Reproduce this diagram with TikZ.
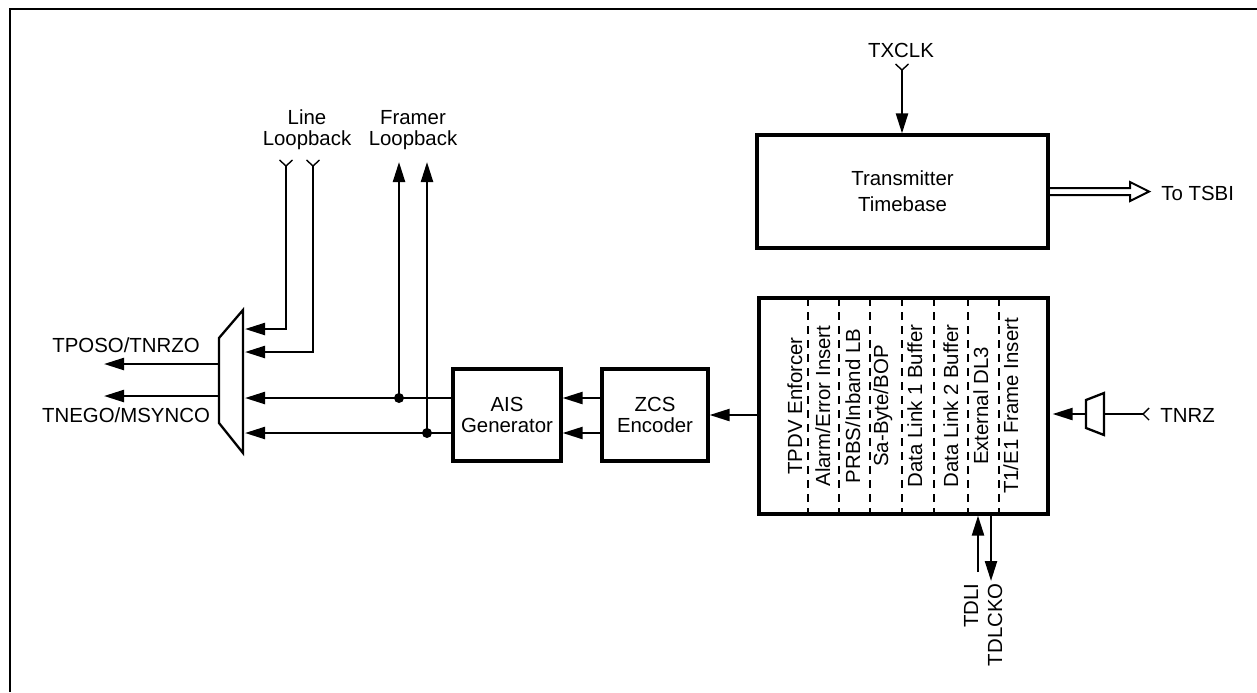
\documentclass[tikz,border=0pt]{standalone}
\usepackage{fontspec}
\setmainfont{Liberation Sans}
\usetikzlibrary{arrows.meta,calc,positioning}

\begin{document}
\begin{tikzpicture}[x=0.5pt,y=-0.5pt,>={Triangle[length=10pt,width=6pt]},
  every node/.style={inner sep=0pt,font=\fontsize{10.2}{10.5}\selectfont},
  blk/.style={draw,line width=1.6pt,align=center},
  wire/.style={line width=1.15pt},
  pin/.style={line width=0.7pt},
  dot/.style={circle,fill,minimum size=5pt}]
  \useasboundingbox (0,0) rectangle (1257,692);
  \draw[line width=1.35pt] (10,692) -- (10,9) -- (1257,9);

  \node[blk,minimum width=145.5pt,minimum height=56.5pt] (tb) at (902.5,191.5) {Transmitter\\[2.5pt]Timebase};
  \node[blk,minimum width=144.5pt,minimum height=108pt] (ins) at (903.5,406) {};
  \node[blk,minimum width=53pt,minimum height=46pt] (zcs) at (655,415) {ZCS\\Encoder};
  \node[blk,minimum width=54pt,minimum height=46pt] (ais) at (507,415) {AIS\\Generator};

  \foreach \x in {808,839,870,902,934,968,999}
    \draw[line width=1pt,dash pattern=on 4pt off 3pt] (\x,298) -- (\x,514);
  \foreach \x/\t [count=\i] in {802/TPDV Enforcer,830/{Alarm/Error Insert},860/{PRBS/Inband LB},888/{Sa-Byte/BOP},922/Data Link 1 Buffer,958/Data Link 2 Buffer,988/External DL3,1018/{T1/E1 Frame Insert}}
    \node[rotate=90,anchor=base] (lbl\i) at (\x,406) {\t};

  % clock in, timebase out
  \node[anchor=base] (txclk) at (901,57) {TXCLK};
  \coordinate (txin) at (902,70);
  \draw[pin] ($(txin)+(-6.5,-6)$) -- (txin) -- ($(txin)+(6.5,-6)$);
  \draw[wire,->] (txin) -- (txin |- tb.north);
  \node[anchor=base west] (tsbi) at (1161,200) {To TSBI};
  \coordinate (tsb) at ($(tsbi.west |- tb.east)+(-12,0)$);
  \draw[line width=1pt] ($(tb.east)+(0,-3.5)$) -- ($(tsb)+(-19,-3.5)$) -- ++(0,-6) -- (tsb)
    -- ($(tsb)+(-19,9.5)$) -- ++(0,-6) -- ($(tb.east)+(0,3.5)$);

  % data in
  \node[anchor=base west] (tnrz) at (1160,422) {TNRZ};
  \coordinate (tin) at (1143,414);
  \coordinate (tmx) at (1104,414); \coordinate (tmo) at (1086,414);
  \draw[pin] ($(tin)+(6,-6)$) -- (tin) -- ($(tin)+(6,6)$);
  \draw[wire] (1086,400) -- (1104,393) -- (1104,435) -- (1086,428) -- cycle;
  \draw[wire] (tin) -- (tmx);
  \draw[wire,->,shorten >=1.5pt] (tmo) -- (tmo -| ins.east);

  \node[rotate=90,anchor=base east] (tdli) at (978,583) {TDLI};
  \node[rotate=90,anchor=base east] (tdlcko) at (1002,583) {TDLCKO};
  \coordinate (dli) at (978,572); \coordinate (dlo) at (991,581);
  \draw[wire,->] (dli) -- (dli |- ins.south);
  \draw[wire,->] (dlo |- ins.south) -- (dlo);

  \coordinate (w1) at (0,398); \coordinate (w2) at (0,433);
  \draw[wire,->] (ins.west |- zcs.east) -- (zcs.east);
  \draw[wire,->] (zcs.west |- w1) -- (ais.east |- w1);
  \draw[wire,->] (zcs.west |- w2) -- (ais.east |- w2);

  % output mux and loopbacks
  \draw[wire] (219,338) -- (243,310) -- (243,453) -- (219,423) -- cycle;
  \coordinate (mi) at (245,0); \coordinate (mo) at (219,0);
  \node[dot] (d1) at (399,398) {};
  \node[dot] (d2) at (427,433) {};
  \draw[wire,->] (ais.west |- w1) -- (mi |- w1);
  \draw[wire,->] (ais.west |- w2) -- (mi |- w2);
  \coordinate (ftop) at (0,162);
  \draw[wire,->] (d1.center) -- (d1 |- ftop);
  \draw[wire,->] (d2.center) -- (d2 |- ftop);
  \node[align=center] (fl) at (413,130) {Framer\\Loopback};
  \node[align=center] (ll) at (307,130) {Line\\Loopback};
  \coordinate (l1) at (286,166); \coordinate (l2) at (313,166);
  \foreach \c in {l1,l2}
    \draw[pin] ($(\c)+(-6.5,-6)$) -- (\c) -- ($(\c)+(6.5,-6)$);
  \coordinate (m1) at (0,329); \coordinate (m2) at (0,352);
  \draw[wire,->] (l1) |- (mi |- m1);
  \draw[wire,->] (l2) |- (mi |- m2);

  \coordinate (o1) at (0,364); \coordinate (o2) at (0,396); \coordinate (ot) at (104,0);
  \draw[wire,->] (mo |- o1) -- (ot |- o1);
  \draw[wire,->] (mo |- o2) -- (ot |- o2);
  \node[anchor=base] (tposo) at (126,352) {TPOSO/TNRZO};
  \node[anchor=base] (tnego) at (126,422) {TNEGO/MSYNCO};
\end{tikzpicture}
\end{document}
